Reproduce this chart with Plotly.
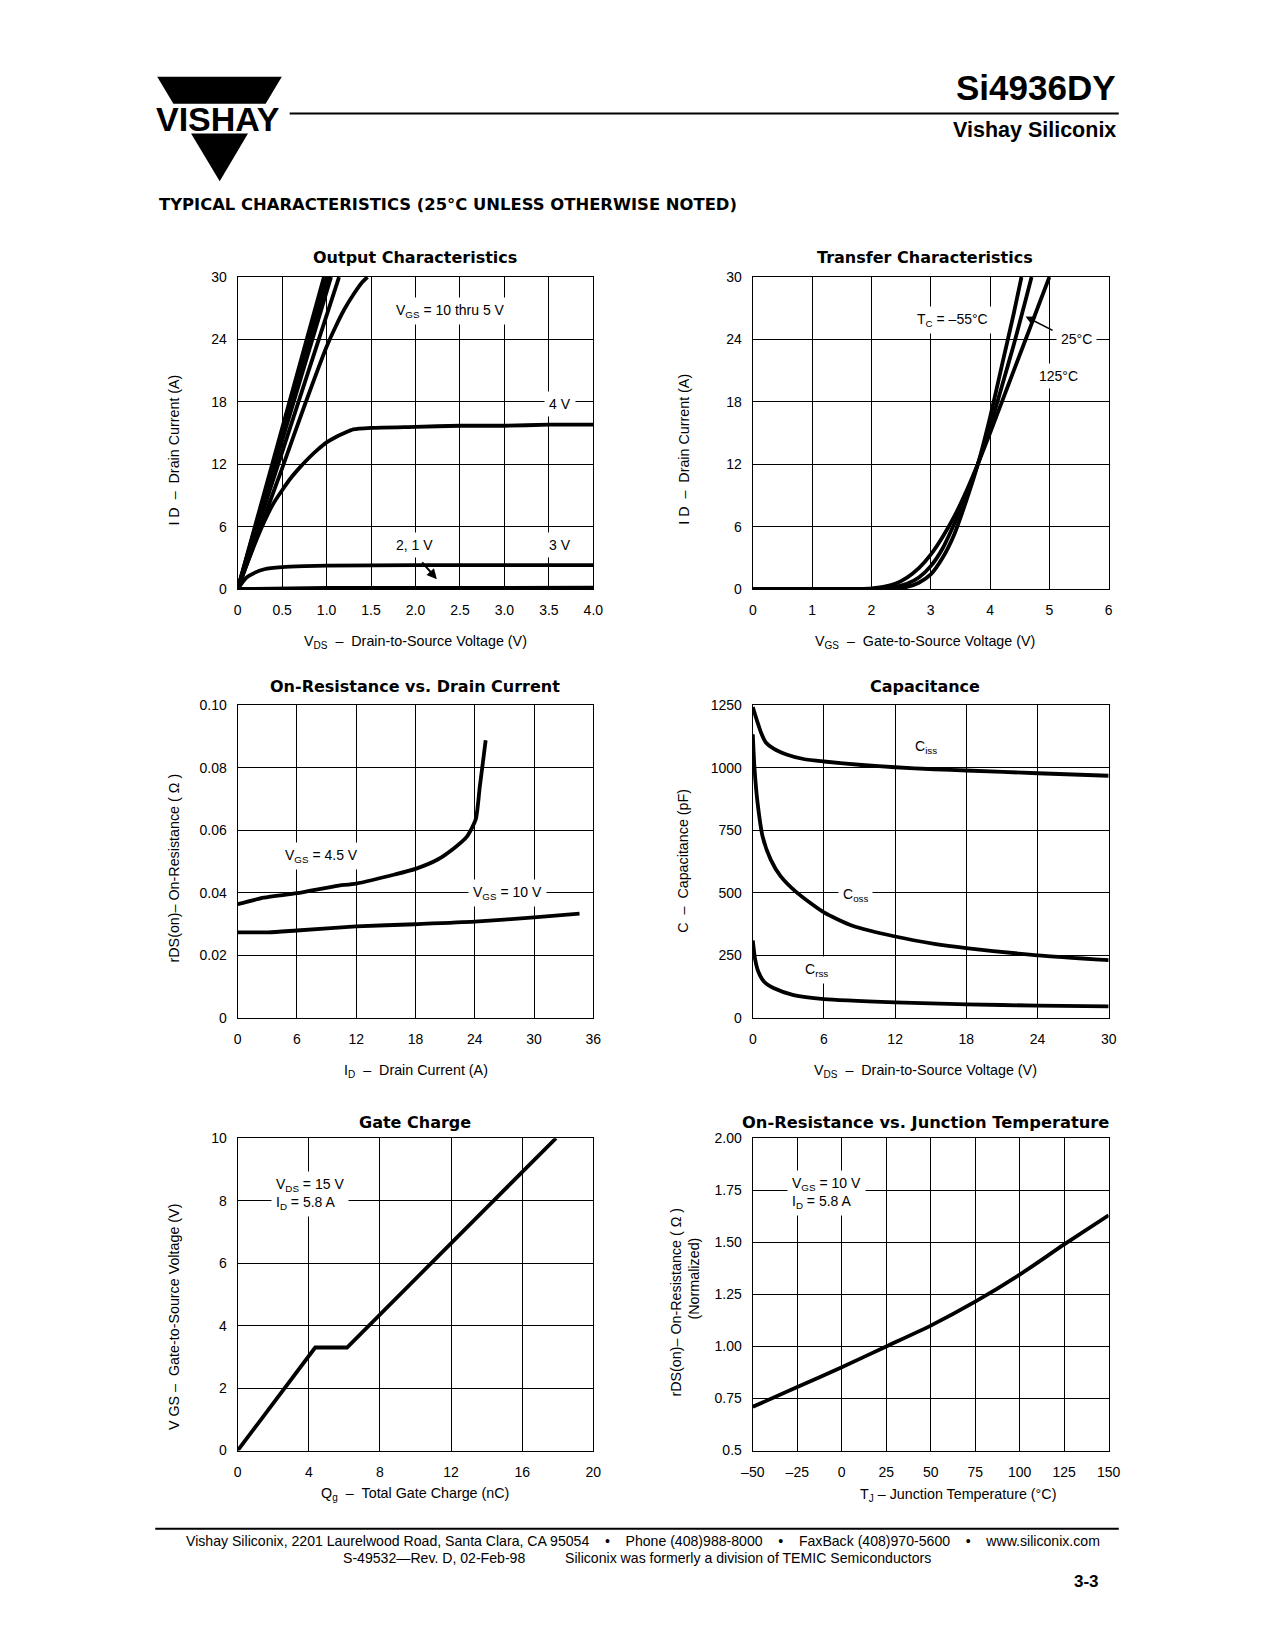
import plotly.graph_objects as go

W, H = 1275, 1650


def PX(x):
    return x / W


def PY(y):
    return 1 - y / H


# ---------------- data ----------------
# Output characteristics: VDS (V) vs ID (A)
oc_vgs10_vds = [0, 0.97]
oc_vgs10_id = [0, 30]
oc_vgs9_vds = [0, 1.0]
oc_vgs9_id = [0, 30]
oc_vgs8_vds = [0, 1.03]
oc_vgs8_id = [0, 30]
oc_vgs7_vds = [0, 1.05]
oc_vgs7_id = [0, 30]
oc_vgs6_vds = [0, 1.14]
oc_vgs6_id = [0, 30]
oc_vgs5_vds = [0, 0.25, 0.5, 0.75, 1.0, 1.1, 1.2, 1.3, 1.4, 1.46]
oc_vgs5_id = [0, 5.8, 11.6, 17.6, 23.3, 25.2, 26.9, 28.3, 29.5, 30]
oc_vgs4_vds = [0, 0.1, 0.2, 0.3, 0.4, 0.5, 0.6, 0.7, 0.8, 0.9, 1.0, 1.1, 1.2, 1.3, 1.5, 2.0, 2.5, 3.0, 3.5, 4.0]
oc_vgs4_id = [0, 2.3, 4.5, 6.5, 8.2, 9.5, 10.7, 11.7, 12.6, 13.4, 14.1, 14.6, 15.0, 15.35, 15.5, 15.6, 15.7, 15.7, 15.8, 15.8]
oc_vgs3_vds = [0, 0.05, 0.1, 0.2, 0.3, 0.5, 0.75, 1.0, 2.0, 3.0, 4.0]
oc_vgs3_id = [0, 0.6, 1.1, 1.6, 1.9, 2.1, 2.2, 2.25, 2.3, 2.3, 2.3]
oc_vgs21_vds = [0, 0.5, 1.0, 2.0, 3.0, 4.0]
oc_vgs21_id = [0, 0.05, 0.1, 0.1, 0.12, 0.12]
oc_x_ticks = [0, 0.5, 1.0, 1.5, 2.0, 2.5, 3.0, 3.5, 4.0]
oc_x_text = ["0", "0.5", "1.0", "1.5", "2.0", "2.5", "3.0", "3.5", "4.0"]
oc_y_ticks = [0, 6, 12, 18, 24, 30]
oc_y_text = ["0", "6", "12", "18", "24", "30"]

# Transfer characteristics: VGS (V) vs ID (A)
tc_125_vgs = [0, 1.8, 2.0, 2.2, 2.4, 2.6, 2.8, 3.0, 3.2, 3.4, 3.6, 3.8, 4.0, 4.2, 4.4, 4.6, 4.8, 5.0]
tc_125_id = [0, 0, 0.05, 0.2, 0.5, 1.1, 2.0, 3.3, 5.0, 7.0, 9.4, 12.1, 15.0, 18.0, 21.0, 24.0, 27.0, 30.0]
tc_25_vgs = [0, 2.0, 2.2, 2.4, 2.6, 2.8, 3.0, 3.2, 3.4, 3.6, 3.8, 4.0, 4.2, 4.4, 4.6, 4.7]
tc_25_id = [0, 0, 0.05, 0.2, 0.5, 1.1, 2.2, 3.9, 6.3, 9.0, 12.1, 15.6, 19.5, 23.5, 27.8, 30.0]
tc_m55_vgs = [0, 2.2, 2.4, 2.6, 2.8, 3.0, 3.2, 3.4, 3.6, 3.8, 4.0, 4.2, 4.4, 4.53]
tc_m55_id = [0, 0, 0.05, 0.2, 0.6, 1.4, 3.0, 5.3, 8.5, 12.1, 16.5, 21.5, 26.5, 30.0]
tc_x_ticks = [0, 1, 2, 3, 4, 5, 6]
tc_x_text = ["0", "1", "2", "3", "4", "5", "6"]
tc_y_ticks = [0, 6, 12, 18, 24, 30]
tc_y_text = ["0", "6", "12", "18", "24", "30"]

# On-resistance vs drain current: ID (A) vs rDS(on) (ohm)
or_45_id = [0, 2.65, 6, 9.9, 12, 15.9, 18, 20.2, 21.9, 23.2, 24.1, 24.5, 24.8, 25.1]
or_45_r = [0.0364, 0.0385, 0.0399, 0.0422, 0.0430, 0.0459, 0.0477, 0.0506, 0.0543, 0.0580, 0.0636, 0.0738, 0.0812, 0.0888]
or_10_id = [0, 3.1, 6, 12, 18, 24, 30, 34.6]
or_10_r = [0.0274, 0.0274, 0.0280, 0.0293, 0.0300, 0.0308, 0.0322, 0.0334]
or_x_ticks = [0, 6, 12, 18, 24, 30, 36]
or_x_text = ["0", "6", "12", "18", "24", "30", "36"]
or_y_ticks = [0, 0.02, 0.04, 0.06, 0.08, 0.10]
or_y_text = ["0", "0.02", "0.04", "0.06", "0.08", "0.10"]

# Capacitance: VDS (V) vs C (pF)
cap_iss_vds = [0, 0.36, 0.69, 1.1, 1.79, 2.9, 4.27, 6, 9.2, 12, 15.3, 18, 24, 30]
cap_iss_c = [1242, 1187, 1141, 1101, 1075, 1052, 1035, 1025, 1011, 1002, 994, 989, 978, 968]
cap_oss_vds = [0, 0.14, 0.41, 0.83, 1.51, 2.34, 3.72, 6, 8.4, 12, 15.3, 18, 24, 30]
cap_oss_c = [1134, 1002, 857, 725, 633, 567, 501, 422, 369, 326, 297, 280, 251, 232]
cap_rss_vds = [0, 0.19, 0.47, 0.96, 1.79, 3.44, 6, 12, 18, 24, 30]
cap_rss_c = [310, 237, 185, 145, 119, 92, 76, 63, 55, 50, 47]
cap_x_ticks = [0, 6, 12, 18, 24, 30]
cap_x_text = ["0", "6", "12", "18", "24", "30"]
cap_y_ticks = [0, 250, 500, 750, 1000, 1250]
cap_y_text = ["0", "250", "500", "750", "1000", "1250"]

# Gate charge: Qg (nC) vs VGS (V)
gc_qg = [0, 4.36, 6.15, 17.9]
gc_vgs = [0, 3.3, 3.3, 10.0]
gc_x_ticks = [0, 4, 8, 12, 16, 20]
gc_x_text = ["0", "4", "8", "12", "16", "20"]
gc_y_ticks = [0, 2, 4, 6, 8, 10]
gc_y_text = ["0", "2", "4", "6", "8", "10"]

# On-resistance vs junction temperature: TJ (C) vs normalized rDS(on)
tj_temp = [-50, -25, 0, 25, 50, 75, 100, 125, 150]
tj_rnorm = [0.71, 0.805, 0.90, 1.00, 1.10, 1.215, 1.345, 1.49, 1.63]
tj_x_ticks = [-50, -25, 0, 25, 50, 75, 100, 125, 150]
tj_x_text = ["\u201350", "\u201325", "0", "25", "50", "75", "100", "125", "150"]
tj_y_ticks = [0.5, 0.75, 1.0, 1.25, 1.5, 1.75, 2.0]
tj_y_text = ["0.5", "0.75", "1.00", "1.25", "1.50", "1.75", "2.00"]

# ---------------- styling ----------------
FONT = "Liberation Sans, Arial, Helvetica, sans-serif"
HEAVY = "DejaVu Sans, Verdana, sans-serif"
LW = 3.8
TS = 14.3  # axis-title size

fig = go.Figure()


def curve(x, y, xa, ya, shape="linear"):
    fig.add_trace(go.Scatter(
        x=x, y=y, mode="lines", xaxis=xa, yaxis=ya, showlegend=False,
        hoverinfo="skip",
        line=dict(color="black", width=LW, shape=shape, smoothing=0.6),
    ))


# chart 1
for vx, iy in [(oc_vgs10_vds, oc_vgs10_id), (oc_vgs9_vds, oc_vgs9_id),
               (oc_vgs8_vds, oc_vgs8_id), (oc_vgs7_vds, oc_vgs7_id),
               (oc_vgs6_vds, oc_vgs6_id)]:
    curve(vx, iy, "x", "y")
curve(oc_vgs5_vds, oc_vgs5_id, "x", "y", "spline")
curve(oc_vgs4_vds, oc_vgs4_id, "x", "y", "spline")
curve(oc_vgs3_vds, oc_vgs3_id, "x", "y", "spline")
curve(oc_vgs21_vds, oc_vgs21_id, "x", "y")
# chart 2
curve(tc_125_vgs, tc_125_id, "x2", "y2", "spline")
curve(tc_25_vgs, tc_25_id, "x2", "y2", "spline")
curve(tc_m55_vgs, tc_m55_id, "x2", "y2", "spline")
# chart 3
curve(or_45_id, or_45_r, "x3", "y3", "spline")
curve(or_10_id, or_10_r, "x3", "y3", "spline")
# chart 4
curve(cap_iss_vds, cap_iss_c, "x4", "y4", "spline")
curve(cap_oss_vds, cap_oss_c, "x4", "y4", "spline")
curve(cap_rss_vds, cap_rss_c, "x4", "y4", "spline")
# chart 5
curve(gc_qg, gc_vgs, "x5", "y5")
# chart 6
curve(tj_temp, tj_rnorm, "x6", "y6", "spline")


def axis(domain, anchor, rng, tv, tt, is_x):
    return dict(
        domain=domain, anchor=anchor, range=rng, tickmode="array",
        tickvals=tv, ticktext=tt, showgrid=True, gridcolor="black",
        gridwidth=1.1, showline=True, linecolor="black", linewidth=1.3,
        mirror=True, zeroline=False, ticks="outside",
        ticklen=8 if is_x else 7, tickcolor="rgba(0,0,0,0)",
        tickfont=dict(family=FONT, size=14, color="black"),
        fixedrange=True,
    )


L1 = [PX(230), PX(592.5)]
L2 = [PX(755), PX(1117.7)]
R1 = [PY(586.7), PY(271.7)]
R2 = [PY(1020), PY(704)]
R3 = [PY(1456.7), PY(1141.3)]

layout = dict(
    width=W, height=H, margin=dict(l=0, r=0, t=0, b=0),
    paper_bgcolor="white", plot_bgcolor="white",
    xaxis=axis(L1, "y", [0, 4], oc_x_ticks, oc_x_text, True),
    yaxis=axis(R1, "x", [0, 30], oc_y_ticks, oc_y_text, False),
    xaxis2=axis(L2, "y2", [0, 6], tc_x_ticks, tc_x_text, True),
    yaxis2=axis(R1, "x2", [0, 30], tc_y_ticks, tc_y_text, False),
    xaxis3=axis(L1, "y3", [0, 36], or_x_ticks, or_x_text, True),
    yaxis3=axis(R2, "x3", [0, 0.10], or_y_ticks, or_y_text, False),
    xaxis4=axis(L2, "y4", [0, 30], cap_x_ticks, cap_x_text, True),
    yaxis4=axis(R2, "x4", [0, 1250], cap_y_ticks, cap_y_text, False),
    xaxis5=axis(L1, "y5", [0, 20], gc_x_ticks, gc_x_text, True),
    yaxis5=axis(R3, "x5", [0, 10], gc_y_ticks, gc_y_text, False),
    xaxis6=axis(L2, "y6", [-50, 150], tj_x_ticks, tj_x_text, True),
    yaxis6=axis(R3, "x6", [0.5, 2.0], tj_y_ticks, tj_y_text, False),
)

ann = []


def paper_text(x, y, text, size=14, family=FONT, xanchor="center",
               angle=0, color="black"):
    ann.append(dict(x=PX(x), y=PY(y), xref="paper", yref="paper", text=text,
                    showarrow=False, xanchor=xanchor, yanchor="middle",
                    textangle=angle, font=dict(family=family, size=size,
                                               color=color)))


def data_label(xa, ya, x, y, text, xanchor="center", align="center"):
    ann.append(dict(x=x, y=y, xref=xa, yref=ya, text=text, showarrow=False,
                    xanchor=xanchor, yanchor="middle", align=align,
                    bgcolor="white", borderpad=4,
                    font=dict(family=FONT, size=14, color="black")))


# header
paper_text(1127, 80, "<b>Si4936DY</b>", size=35, xanchor="right")
paper_text(1127, 123, "<b>Vishay Siliconix</b>", size=21.5, xanchor="right")
paper_text(210, 112, "<b>VISHAY</b>", size=34)
paper_text(148, 198, "<b>TYPICAL CHARACTERISTICS (25\u00b0C UNLESS OTHERWISE NOTED)</b>",
           size=16.4, family=HEAVY, xanchor="left")

# chart titles
paper_text(411, 252, "<b>Output Characteristics</b>", size=16, family=HEAVY)
paper_text(931, 252, "<b>Transfer Characteristics</b>", size=16, family=HEAVY)
paper_text(411, 685, "<b>On-Resistance vs. Drain Current</b>", size=16, family=HEAVY)
paper_text(931, 685, "<b>Capacitance</b>", size=16, family=HEAVY)
paper_text(411, 1125, "<b>Gate Charge</b>", size=16, family=HEAVY)
paper_text(931, 1125, "<b>On-Resistance vs. Junction Temperature</b>", size=16.3, family=HEAVY)

# axis titles
ND = "\u00a0"
DASH = ND + ND + "\u2013" + ND + ND
paper_text(411, 640, "V<sub>DS</sub>" + DASH + "Drain-to-Source Voltage (V)", size=TS)
paper_text(931, 640, "V<sub>GS</sub>" + DASH + "Gate-to-Source Voltage (V)", size=TS)
paper_text(412, 1073, "I<sub>D</sub>" + DASH + "Drain Current (A)", size=TS)
paper_text(931, 1073, "V<sub>DS</sub>" + DASH + "Drain-to-Source Voltage (V)", size=TS)
paper_text(411, 1501, "Q<sub>g</sub>" + DASH + "Total Gate Charge (nC)", size=TS)
paper_text(964, 1502, "T<sub>J</sub>" + ND + "\u2013" + ND + "Junction Temperature (\u00b0C)", size=TS)

paper_text(165, 446, "I" + ND + "D" + DASH + "Drain Current (A)", size=TS, angle=-90)
paper_text(685, 446, "I" + ND + "D" + DASH + "Drain Current (A)", size=TS, angle=-90)
paper_text(165, 868, "rDS(on)\u2013" + ND + "On-Resistance" + ND + "(" + ND + "\u03a9" + ND + ")", size=TS, angle=-90)
paper_text(684, 861, "C" + DASH + "Capacitance (pF)", size=TS, angle=-90)
paper_text(165, 1322, "V" + ND + "GS" + ND + "\u2013" + ND + ND + "Gate-to-Source Voltage (V)", size=TS, angle=-90)
paper_text(677, 1307, "rDS(on)\u2013" + ND + "On-Resistance" + ND + "(" + ND + "\u03a9" + ND + ")", size=TS, angle=-90)
paper_text(695, 1283, "(Normalized)", size=TS, angle=-90)

# in-plot labels
data_label("x", "y", 2.39, 26.7, "V<sub>GS</sub> = 10 thru 5 V")
data_label("x", "y", 3.63, 17.8, "4 V")
data_label("x", "y", 1.99, 4.2, "2, 1 V")
data_label("x", "y", 3.63, 4.2, "3 V")
ann.append(dict(x=2.24, y=0.95, ax=2.06, ay=2.7, xref="x", yref="y",
                axref="x", ayref="y", text="", showarrow=True, arrowhead=2,
                arrowwidth=2, arrowsize=1, arrowcolor="black"))

data_label("x2", "y2", 3.37, 25.9, "T<sub>C</sub> = \u201355\u00b0C")
data_label("x2", "y2", 5.46, 24.0, "25\u00b0C")
data_label("x2", "y2", 5.16, 20.5, "125\u00b0C")
ann.append(dict(x=4.6, y=26.2, ax=5.08, ay=24.8, xref="x2", yref="y2",
                axref="x2", ayref="y2", text="", showarrow=True, arrowhead=2,
                arrowwidth=1.6, arrowsize=1.2, arrowcolor="black"))

data_label("x3", "y3", 8.44, 0.0517, "V<sub>GS</sub> = 4.5 V")
data_label("x3", "y3", 27.3, 0.0401, "V<sub>GS</sub> = 10 V")

data_label("x4", "y4", 14.6, 1084, "C<sub>iss</sub>")
data_label("x4", "y4", 8.67, 490, "C<sub>oss</sub>")
data_label("x4", "y4", 5.37, 191, "C<sub>rss</sub>")

data_label("x5", "y5", 1.9, 8.22, "V<sub>DS</sub> = 15 V<br>I<sub>D</sub> = 5.8 A",
           xanchor="left", align="left")
data_label("x6", "y6", -31, 1.735, "V<sub>GS</sub> = 10 V<br>I<sub>D</sub> = 5.8 A",
           xanchor="left", align="left")

# footer
paper_text(175, 1548,
           "Vishay Siliconix, 2201 Laurelwood Road, Santa Clara, CA 95054" + ND * 4 + "\u2022" + ND * 4 +
           "Phone (408)988-8000" + ND * 4 + "\u2022" + ND * 4 + "FaxBack (408)970-5600" + ND * 4 +
           "\u2022" + ND * 4 + "www.siliconix.com", size=14.1, xanchor="left")
paper_text(335, 1565, "S-49532\u2014Rev. D, 02-Feb-98", size=14.1, xanchor="left")
paper_text(562, 1565, "Siliconix was formerly a division of TEMIC Semiconductors", size=14.1, xanchor="left")
paper_text(1110, 1589, "<b>3-3</b>", size=17, xanchor="right")

layout["annotations"] = ann

# decorations: logo and rules
layout["shapes"] = [
    dict(type="path", xref="paper", yref="paper", line=dict(width=0), fillcolor="black",
         path="M {},{} L {},{} L {},{} L {},{} Z".format(PX(148), PY(69.3), PX(275), PY(69.3),
                                                         PX(258.5), PY(96.7), PX(164.5), PY(96.7))),
    dict(type="path", xref="paper", yref="paper", line=dict(width=0), fillcolor="black",
         path="M {},{} L {},{} L {},{} Z".format(PX(182.5), PY(126.7), PX(240.5), PY(126.7),
                                                  PX(211.7), PY(175))),
    dict(type="line", xref="paper", yref="paper", x0=PX(283), x1=PX(1128),
         y0=PY(106.5), y1=PY(106.5), line=dict(color="black", width=2)),
    dict(type="line", xref="paper", yref="paper", x0=PX(146), x1=PX(1128),
         y0=PY(1535.7), y1=PY(1535.7), line=dict(color="black", width=2)),
]

fig.update_layout(**layout)
fig.write_html("out.html", config={"displayModeBar": False},
               post_script="document.body.style.margin='0px';document.body.style.overflow='hidden';")
